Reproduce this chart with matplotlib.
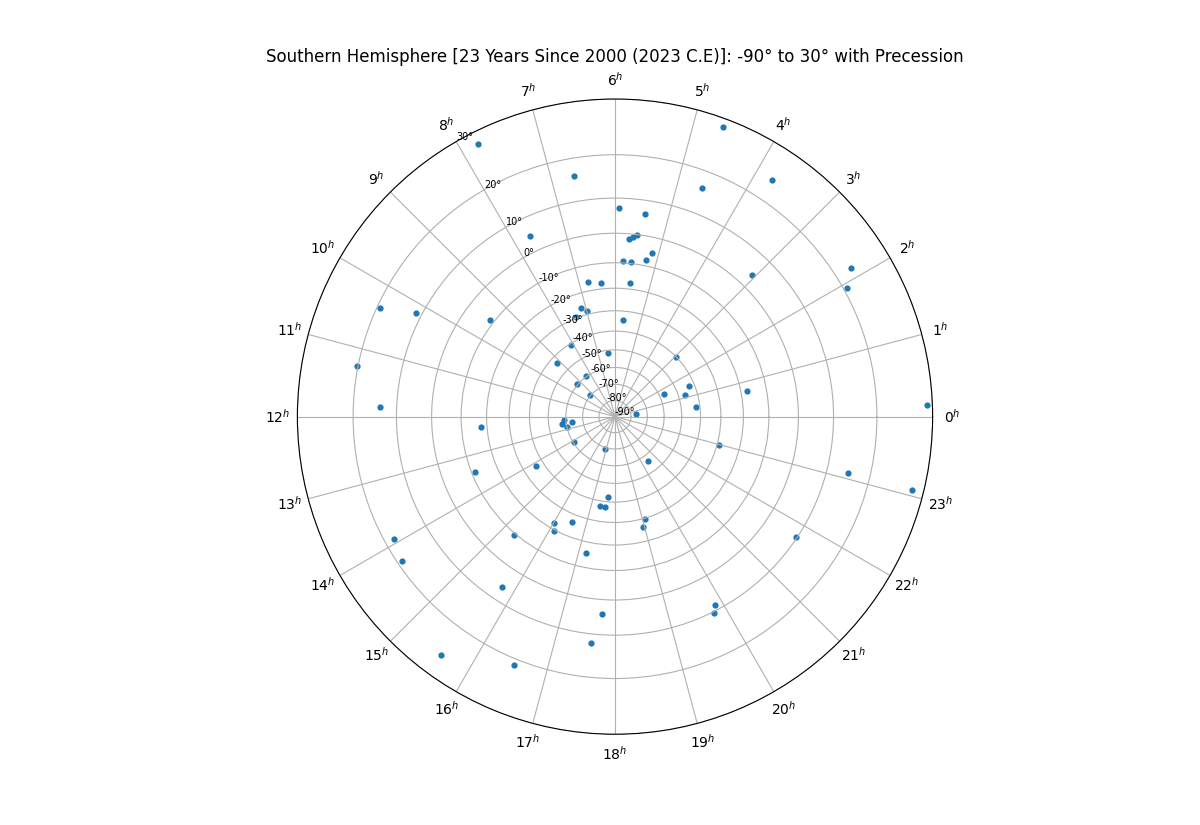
import numpy as np
import matplotlib
matplotlib.use("Agg")
import matplotlib.pyplot as plt

ra_hours = [4.63,3.77,4.61,5.93,5.43,5.55,5.61,5.69,5.14,5.25,5.80,5.60,5.57,5.67,3.07,2.15,1.93,0.14,0.74,1.50,
            1.15,0.46,1.63,2.96,0.43,6.40,7.78,6.64,7.68,6.75,6.39,7.15,6.98,7.42,9.49,10.17,10.35,11.26,11.84,8.09,
            9.15,8.36,9.29,9.27,12.27,12.50,12.55,12.80,12.29,14.15,16.89,20.45,22.99,23.09,23.07,21.76,14.13,13.44,17.68,17.38,
            17.59,19.10,18.96,16.53,16.02,16.14,15.30,13.93,14.27,17.20,15.76,17.75,17.60,19.87,19.79,15.59,16.53]
dec_deg = [28.6,24.3,16.3,7.4,6.3,-0.1,-1.0,-1.6,-5.2,-8.0,-9.3,-9.4,-17.5,-34.3,4.1,23.3,20.7,29.1,-17.6,-42.7,
           -46.3,-41.9,-57.0,-40.0,-76.9,-51.5,28.0,16.1,4.9,-16.4,-17.6,-26.4,-28.5,-29.3,-8.7,11.4,19.4,20.3,14.0,-40.6,
           -43.5,-59.6,-59.5,-69.8,-58.7,-63.4,-57.3,-59.9,-17.4,-60.5,-69.0,-56.3,-29.0,15.1,28.1,9.8,-36.1,-11.2,-42.3,-37.3,
           -37.3,-29.4,-26.1,-26.2,-22.3,-19.4,-9.3,18.1,19.0,-15.5,6.1,4.3,12.2,8.7,10.4,26.2,21.2]
dec_ticks = [-90,-80,-70,-60,-50,-40,-30,-20,-10,0,10,20,30]
dec_labels = [f"{d}°" for d in dec_ticks]
hour_ticks = list(range(24))
hour_labels = [f"${h}^h$" for h in hour_ticks]
title = "Southern Hemisphere [23 Years Since 2000 (2023 C.E)]: -90° to 30° with Precession"


def forward(d):
    d = np.asarray(d, dtype=float)
    return np.tan(np.radians(np.clip((90 + d) / 2, 0, 89.9)))


def inverse(r):
    r = np.asarray(r, dtype=float)
    return 2 * np.degrees(np.arctan(r)) - 90


fig, ax = plt.subplots(figsize=(12, 8.25), dpi=100, subplot_kw={"projection": "polar"})
ax.set_rscale("function", functions=(forward, inverse))
ax.scatter(np.radians(np.array(ra_hours) * 15), dec_deg, s=12)
ax.set_rlim(-90, 30)
ax.set_rgrids(dec_ticks, dec_labels, angle=120, fontsize=7)
ax.set_thetagrids([h * 15 for h in hour_ticks], hour_labels)
ax.set_rlim(-90, 30)
ax.grid(True)
ax.set_title(title, fontsize=12)
fig.savefig("out.png", dpi=100)
